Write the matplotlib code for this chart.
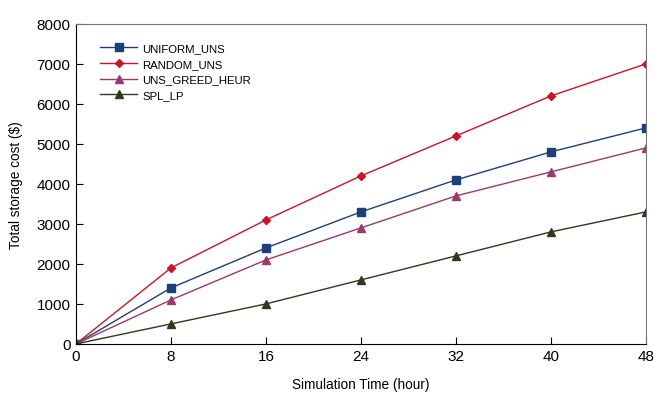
import numpy as np
import matplotlib
matplotlib.use('Agg')
import matplotlib.pyplot as plt

plt.rcParams['font.family'] = ['Liberation Sans', 'DejaVu Sans']

# Podatki
hours = [0, 8, 16, 24, 32, 40, 48]
uniform_uns = [0, 1400, 2400, 3300, 4100, 4800, 5400]
random_uns = [0, 1900, 3100, 4200, 5200, 6200, 7000]
uns_greed_heur = [0, 1100, 2100, 2900, 3700, 4300, 4900]
spl_lp = [0, 500, 1000, 1600, 2200, 2800, 3300]

fig = plt.figure(figsize=(6.55, 4.02), dpi=100)
ax = fig.add_axes([0.116, 0.142, 0.870, 0.796])

ax.plot(hours, uniform_uns, color='#1d3f7c', marker='s', markersize=5.5,
        lw=1.0, label='UNIFORM_UNS')
ax.plot(hours, random_uns, color='#cc1426', marker='D', markersize=4.5,
        lw=1.0, label='RANDOM_UNS')
ax.plot(hours, uns_greed_heur, color='#9a3a6c', marker='^', markersize=5.5,
        lw=1.0, label='UNS_GREED_HEUR')
ax.plot(hours, spl_lp, color='#2e3a18', marker='^', markersize=5.5,
        lw=1.0, label='SPL_LP')

ax.set_xlim(0, 48)
ax.set_ylim(0, 8000)
ax.set_xticks(hours)
ax.set_yticks(np.arange(0, 8001, 1000))
ax.tick_params(direction='in', length=5, labelsize=11, top=False, right=False,
               pad=4)

for s in ['top', 'right']:
    ax.spines[s].set_color('#777777')
for s in ['left', 'bottom']:
    ax.spines[s].set_color('black')

ax.set_xlabel('Simulation Time (hour)', fontsize=9.8, labelpad=10)
ax.set_ylabel('Total storage cost ($)', fontsize=9.8, labelpad=10)

ax.legend(loc='upper left', bbox_to_anchor=(0.025, 0.972), frameon=False,
          fontsize=8.2, handlelength=3.2, labelspacing=0.5, handletextpad=0.5)

plt.savefig('out.png', dpi=100)
